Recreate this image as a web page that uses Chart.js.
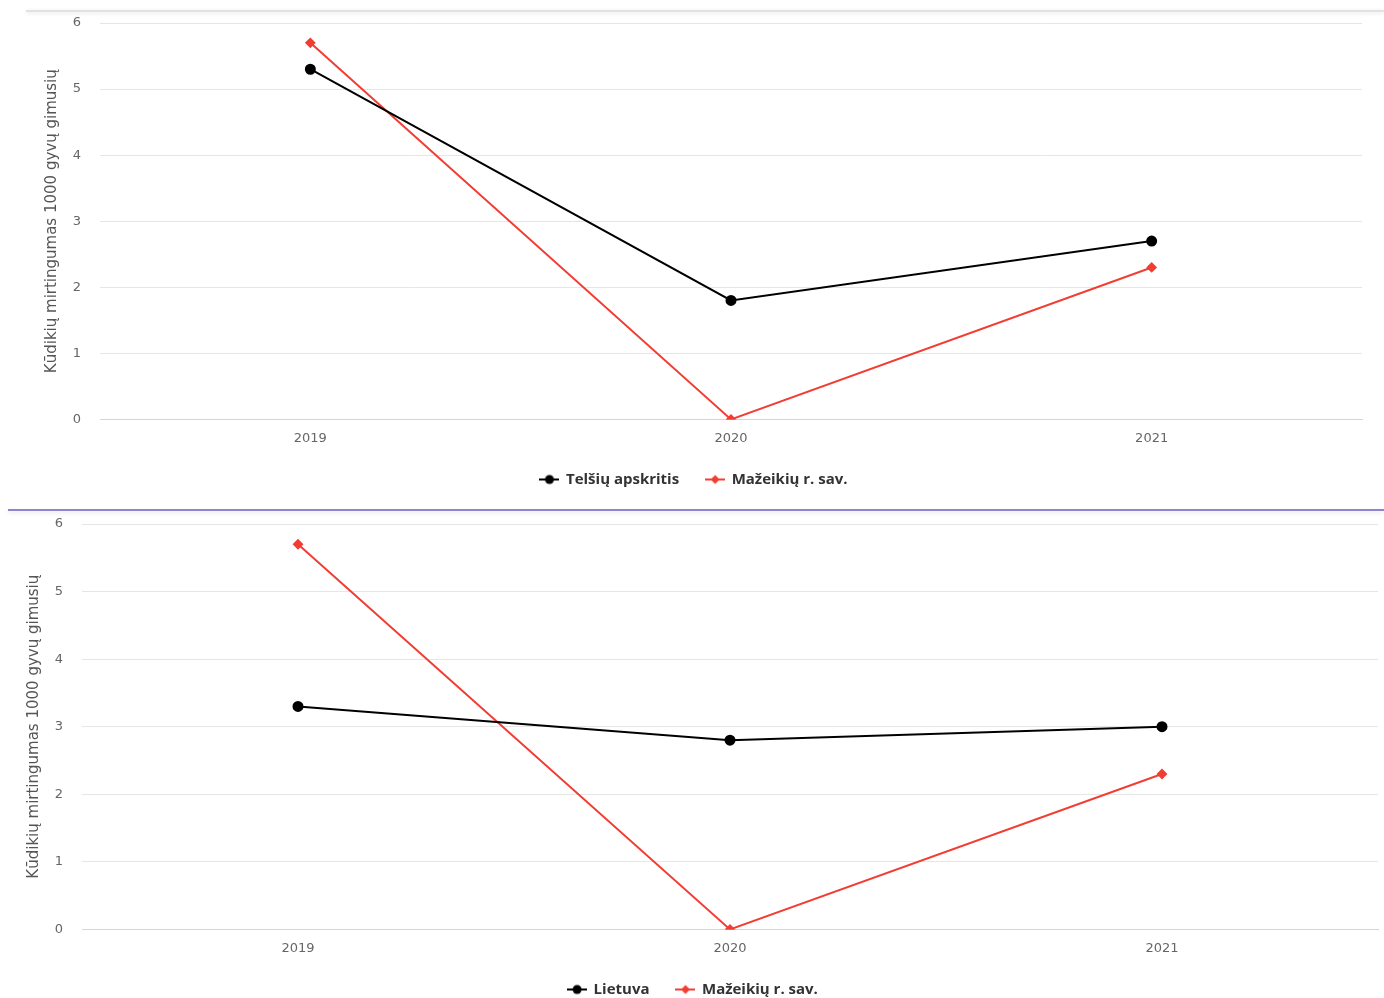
<!DOCTYPE html>
<html><head><meta charset="utf-8">
<script src="https://cdn.jsdelivr.net/npm/chart.js@4/dist/chart.umd.min.js"></script>
<style>
body{margin:0;width:1384px;height:998px;overflow:hidden;background:#fff;position:relative;font-family:"Open Sans",sans-serif}
#topline{position:absolute;left:26px;top:10px;width:1358px;height:2px;background:#e2e2e2;box-shadow:0 1px 4px rgba(0,0,0,0.12)}
#topBox{position:absolute;left:26px;top:12px;width:1358px;height:493px;}
#sep{position:absolute;left:8px;top:509px;width:1376px;height:2px;background:#8f84d0;box-shadow:0 2px 4px rgba(0,0,0,0.12)}
#botBox{position:absolute;left:8px;top:511px;width:1384px;height:504px;}
</style></head>
<body>
<div id="topline"></div>
<div id="topBox"><canvas id="c1"></canvas></div>
<div id="sep"></div>
<div id="botBox"><canvas id="c2"></canvas></div>
<script>
const years = ['2019', '2020', '2021'];
const telsiuApskritis = [5.3, 1.8, 2.7];
const mazeikiuRSav = [5.7, 0, 2.3];
const lietuva = [3.3, 2.8, 3.0];
const yMin = 0, yMax = 6, yStep = 1;
const yTitle = 'Kūdikių mirtingumas 1000 gyvų gimusių';

const BLACK = '#000000';
const RED = '#f23d33';
const FONT = '"Open Sans", sans-serif';
const AXFONT = '"DejaVu Sans", sans-serif';

function icon(color, style) {
  const c = document.createElement('canvas');
  c.width = 20; c.height = 12;
  const x = c.getContext('2d');
  x.strokeStyle = color; x.lineWidth = 2;
  x.beginPath(); x.moveTo(0, 6); x.lineTo(20, 6); x.stroke();
  x.fillStyle = color;
  x.beginPath();
  if (style === 'circle') { x.arc(10, 6, 4.5, 0, Math.PI * 2); }
  else { x.moveTo(10, 1.5); x.lineTo(14.5, 6); x.lineTo(10, 10.5); x.lineTo(5.5, 6); x.closePath(); }
  x.fill();
  return c;
}

function makeChart(id, blackLabel, blackData, pad) {
  const icons = [icon(BLACK, 'circle'), icon(RED, 'diamond')];
  return new Chart(document.getElementById(id), {
    type: 'line',
    data: {
      labels: years,
      datasets: [
        { label: blackLabel, data: blackData, borderColor: BLACK, backgroundColor: BLACK,
          borderWidth: 2, pointStyle: 'circle', pointRadius: 4.5, pointHoverRadius: 4.5, tension: 0 },
        { label: 'Mažeikių r. sav.', data: mazeikiuRSav, borderColor: RED, backgroundColor: RED,
          borderWidth: 2, pointStyle: 'rectRot', pointRadius: 4, pointHoverRadius: 4, tension: 0 }
      ]
    },
    options: {
      responsive: true, maintainAspectRatio: false, animation: false,
      layout: { padding: pad },
      plugins: {
        tooltip: { enabled: false },
        legend: {
          position: 'bottom',
          labels: {
            usePointStyle: true, pointStyleWidth: 18, boxHeight: 12,
            padding: 27, color: '#333333',
            font: { family: FONT, size: 15, weight: 'bold' },
            generateLabels: (chart) => chart.data.datasets.map((d, i) => ({
              text: d.label, fillStyle: d.borderColor, strokeStyle: d.borderColor,
              fontColor: '#333333', lineWidth: 0, pointStyle: icons[i], datasetIndex: i, hidden: false
            }))
          }
        }
      },
      scales: {
        x: {
          offset: true,
          grid: { display: false, drawTicks: false },
          border: { display: true, color: '#ccd6eb', width: 1 },
          ticks: { color: '#666666', font: { family: AXFONT, size: 13 }, padding: 11 },
          afterFit: (s) => { s.height = 25.6; }
        },
        y: {
          min: yMin, max: yMax,
          grid: { color: '#e6e6e6', drawTicks: true, tickLength: 16, tickColor: 'rgba(0,0,0,0)', lineWidth: 1 },
          border: { display: false },
          ticks: { stepSize: yStep, color: '#666666', font: { family: AXFONT, size: 13 }, padding: 3 },
          title: { display: true, text: yTitle, color: '#555555',
                   font: { family: AXFONT, size: 15 }, padding: { top: 17, bottom: 0 } },
          afterFit: (s) => { s.width = 74; }
        }
      }
    }
  });
}

makeChart('c1', 'Telšių apskritis', telsiuApskritis, { top: 11, right: 22, bottom: 8, left: 0 });
makeChart('c2', 'Lietuva', lietuva, { top: 13, right: 14, bottom: 8, left: 0 });
</script>
</body></html>
